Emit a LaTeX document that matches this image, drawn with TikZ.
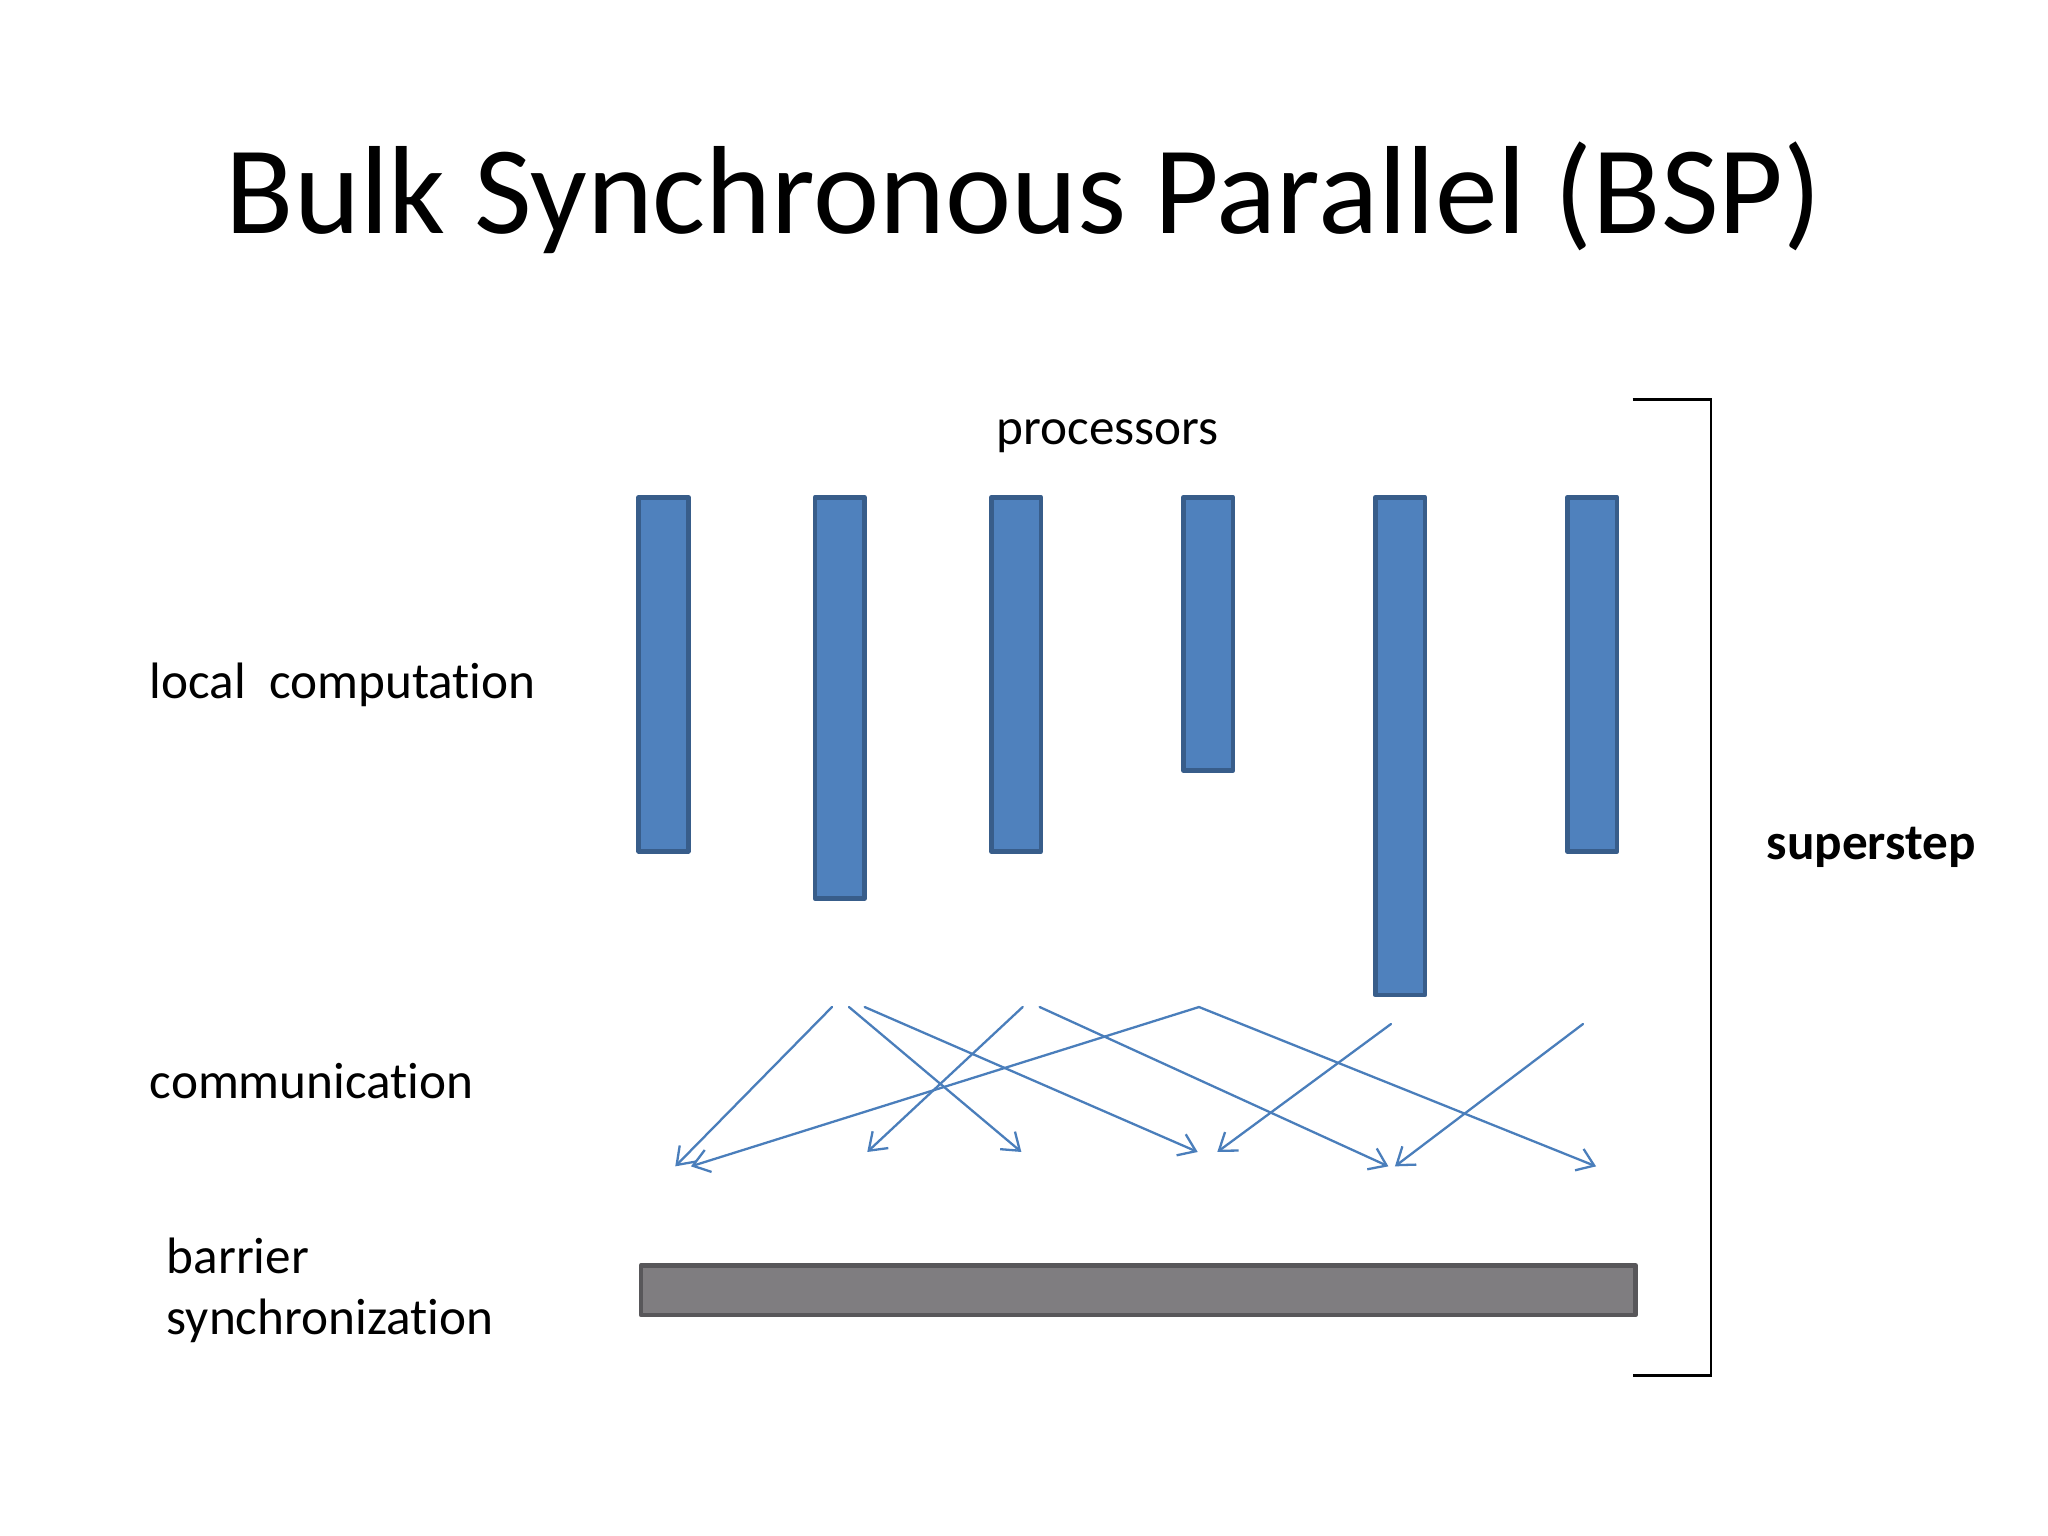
\documentclass[tikz,border=0pt]{standalone}
\usepackage{fontspec}
\setmainfont{Carlito}[Ligatures={NoCommon,NoRequired,NoContextual},Contextuals=NoAlternate]
\usetikzlibrary{arrows.meta}
\begin{document}
\begin{tikzpicture}[x=0.01cm,y=-0.01cm,line join=round,line cap=round]
	\definecolor{barblue}{RGB}{79,129,189}
	\definecolor{barrim}{RGB}{56,93,138}
	\definecolor{msgblue}{RGB}{74,126,187}
	\definecolor{barriergray}{RGB}{127,125,128}
	\definecolor{barrierrim}{RGB}{88,87,90}
	\tikzset{
		proc/.style={draw=barrim,fill=barblue,line width=1pt,minimum width=0.38cm,inner sep=0pt,anchor=north},
		barrier/.style={draw=barrierrim,fill=barriergray,line width=1pt,inner sep=0pt,anchor=north west},
		lbl/.style={inner sep=0pt,font=\fontsize{11.15}{13.4}\selectfont},
		msg/.style={msgblue,line width=0.5pt,-{Straight Barb[length=3.5pt,width=5pt]}}
	}
	\fill[white] (0,0) rectangle (1568,1176);
	\useasboundingbox (0,0) rectangle (1568,1176);
	
	%%%% title
	\node[anchor=base,inner sep=0pt,font=\fontsize{27.3}{32}\selectfont] (title) at (784,179) {Bulk Synchronous Parallel (BSP)};
	
	%%%% processors
	\node[lbl,anchor=base] (procs) at (848,340) {processors};
	\foreach \i/\x/\bot in {1/508/650,2/643/686,3/778/650,4/925/588,5/1072/760,6/1219/650}
		\node[proc,minimum height={(\bot-379)*0.01cm}] (p\i) at (\x,379) {};
	
	%%%% communication
	\foreach \n/\sx/\sy/\ex/\ey in {1/637/771/517/893,2/650/771/782/882,3/662/771/917/882,
		4/783/771/664/882,5/796/771/1063/893,6/918/771/529/893,7/918/771/1222/893,
		8/1065/784/932/882,9/1212/784/1068/893}{
		\coordinate (s\n) at (\sx,\sy);
		\coordinate (e\n) at (\ex,\ey);
		\draw[msg] (s\n)--(e\n);
	}
	
	%%%% barrier
	\node[barrier,minimum width=7.61cm,minimum height=0.38cm] (sync) at (489,967) {};
	
	%%%% labels on the left
	\node[lbl,anchor=base west] (local) at (114,535) {local\ \ computation};
	\node[lbl,anchor=base west] (comm) at (114,841) {communication};
	\node[lbl,anchor=base west,align=left] (bsync) at (127,1022) {barrier\\synchronization};
	
	%%%% superstep bracket
	\draw[line width=0.6pt,line join=miter,line cap=butt] (1250,306)--(1310,306)--(1310,1053)--(1250,1053);
	\node[lbl,anchor=base west,font=\fontsize{11.15}{13.4}\selectfont\bfseries] (super) at (1352,658) {superstep};
\end{tikzpicture}
\end{document}
